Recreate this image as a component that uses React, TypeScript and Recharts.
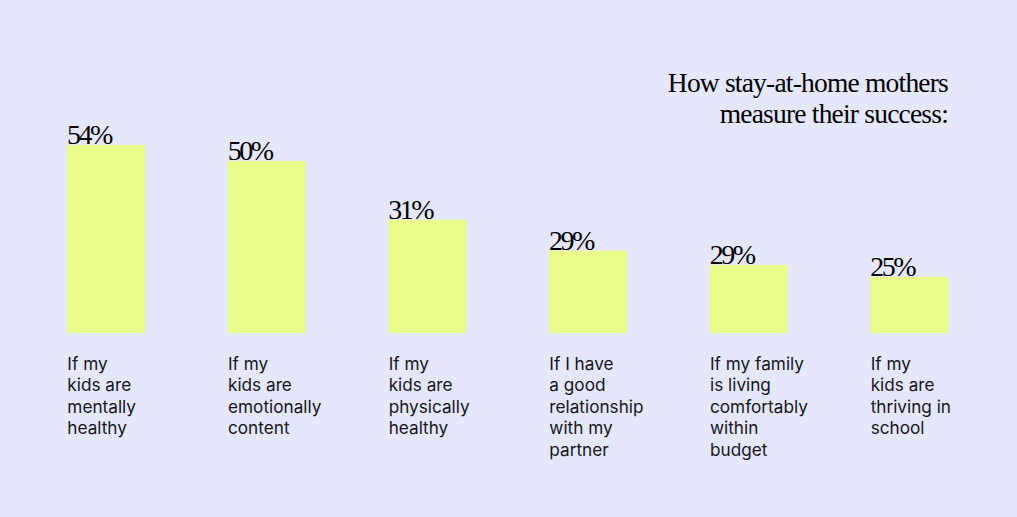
import { BarChart, Bar, XAxis, YAxis, LabelList } from 'recharts'

// Category labels, already broken into lines as in the graphic
const categories: string[][] = [
  ['If my', 'kids are', 'mentally', 'healthy'],
  ['If my', 'kids are', 'emotionally', 'content'],
  ['If my', 'kids are', 'physically', 'healthy'],
  ['If I have', 'a good', 'relationship', 'with my', 'partner'],
  ['If my family', 'is living', 'comfortably', 'within', 'budget'],
  ['If my', 'kids are', 'thriving in', 'school'],
]

// Printed percentages
const shares = [54, 50, 31, 29, 29, 25]

// Bar lengths as drawn (the graphic doesn't scale bars strictly by share)
const barLength = [54, 49.4, 32.5, 23.6, 19.5, 16.1]

const BG = '#e5e8fd'
const BAR = '#eafc8a'
const INK = '#15151c'

const data = categories.map((lines, i) => ({
  key: `c${i}`,
  share: shares[i],
  length: barLength[i],
}))

const SERIF = '"Liberation Serif", "DejaVu Serif", serif'
const SANS = 'Inter, "Noto Sans", sans-serif'

function CategoryTick(props: any) {
  const { x, y, payload } = props
  const idx = data.findIndex((d) => d.key === payload.value)
  const lines = categories[idx] || []
  return (
    <text x={x - 39} y={y + 37} fill={INK} fontFamily={SANS} fontSize={17.2} textAnchor="start">
      {lines.map((l, i) => (
        <tspan key={i} x={x - 39} dy={i === 0 ? 0 : 21.4}>
          {l}
        </tspan>
      ))}
    </text>
  )
}

function ShareLabel(props: any) {
  const { x, y, value } = props
  return (
    <text
      x={x}
      y={y - 1}
      fill="#000"
      fontFamily={SERIF}
      fontSize={28}
      letterSpacing={-2.5}
      textAnchor="start"
    >
      {`${value}%`}
    </text>
  )
}

export default function App() {
  return (
    <div style={{ position: 'relative', width: 1017, height: 517, background: BG, overflow: 'hidden' }}>
      <style>{`body{margin:0}`}</style>
      <div
        style={{
          position: 'absolute',
          right: 69,
          top: 67,
          textAlign: 'right',
          fontFamily: SERIF,
          fontSize: 27.5,
          lineHeight: '31px',
          letterSpacing: -0.8,
          color: '#000',
        }}
      >
        How stay-at-home mothers
        <br />
        measure their success:
      </div>
      <BarChart width={1017} height={517} data={data} margin={{ top: 124, right: 27, bottom: 0, left: 26 }}>
        <XAxis
          dataKey="key"
          axisLine={false}
          tickLine={false}
          tickSize={0}
          tickMargin={0}
          interval={0}
          height={184}
          tick={<CategoryTick />}
        />
        <YAxis hide domain={[0, 60]} />
        <Bar dataKey="length" fill={BAR} barSize={78} isAnimationActive={false}>
          <LabelList dataKey="share" content={<ShareLabel />} />
        </Bar>
      </BarChart>
    </div>
  )
}
